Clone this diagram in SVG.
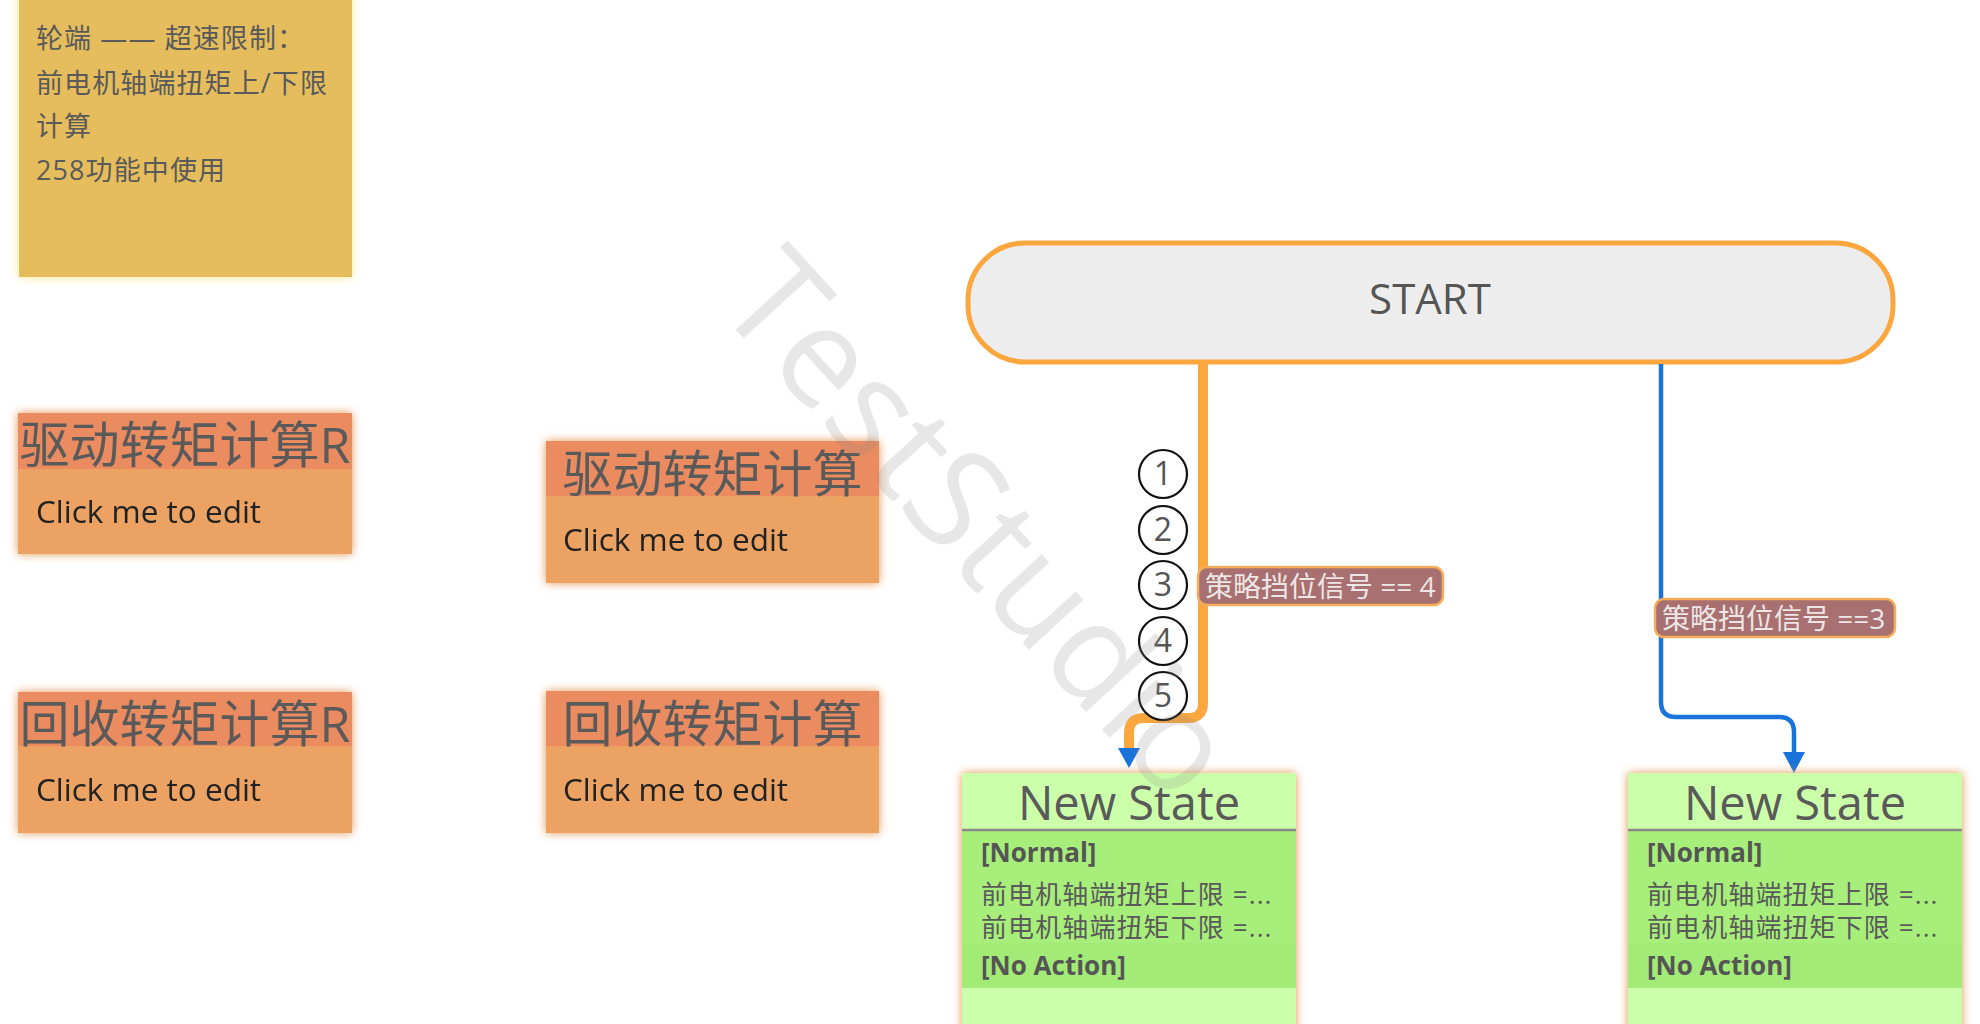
<svg xmlns="http://www.w3.org/2000/svg" width="1980" height="1024" viewBox="0 0 1980 1024">
<defs>
<filter id="glowO" x="-10%" y="-10%" width="120%" height="120%">
<feDropShadow dx="0" dy="0" stdDeviation="5" flood-color="#E0883A" flood-opacity="0.9"/>
</filter>
<filter id="glowY" x="-10%" y="-10%" width="120%" height="120%">
<feDropShadow dx="0" dy="0" stdDeviation="5" flood-color="#FFE77A" flood-opacity="0.95"/>
</filter>
<style>
.cjk{font-family:"Open Sans","Noto Sans CJK SC",sans-serif;fill:#5a5a5a}
.note{font-size:27px;letter-spacing:1.1px}
.hdr{fill:#EA8B61}
.body{fill:#EBA263}
.title{font-size:50px;text-anchor:middle}
.click{font-family:"Open Sans",sans-serif;font-size:31.5px;fill:#222}
.num{font-family:"Open Sans",sans-serif;font-size:32px;fill:#555;text-anchor:middle}
.circ{fill:#fff;stroke:#111;stroke-width:2.2}
.lbl{fill:#A87070;stroke:#F6AE5A;stroke-width:2.5}
.lbltxt{font-family:"Open Sans","Noto Sans CJK SC",sans-serif;font-size:28px;fill:#ECE6E6}
.sname{font-size:47px;text-anchor:middle}
.bold{font-family:"Open Sans",sans-serif;font-weight:bold;font-size:26px;fill:#555}
.act{font-size:26px;letter-spacing:1.1px}
</style>
</defs>
<rect width="1980" height="1024" fill="#fff"/>

<g id="note">
<rect x="19" y="-6" width="333" height="283" fill="#E5BD5D" filter="url(#glowY)"/>
<text class="cjk note" x="36" y="48">轮端 —— 超速限制：</text>
<text class="cjk note" x="36" y="93">前电机轴端扭矩上/下限</text>
<text class="cjk note" x="36" y="136">计算</text>
<text class="cjk note" x="36" y="180">258功能中使用</text>
</g>

<g id="drive-r" filter="url(#glowO)">
<rect class="body" x="18" y="413" width="334" height="141"/>
<rect class="hdr" x="18" y="413" width="334" height="56"/>
<text class="cjk title" x="185" y="463">驱动转矩计算R</text>
<text class="click" x="36" y="523">Click me to edit</text>
</g>

<g id="regen-r" filter="url(#glowO)">
<rect class="body" x="18" y="692" width="334" height="141"/>
<rect class="hdr" x="18" y="692" width="334" height="54"/>
<text class="cjk title" x="185" y="742">回收转矩计算R</text>
<text class="click" x="36" y="801">Click me to edit</text>
</g>

<g id="drive" filter="url(#glowO)">
<rect class="body" x="546" y="441" width="333" height="142"/>
<rect class="hdr" x="546" y="441" width="333" height="55"/>
<text class="cjk title" x="712.5" y="492">驱动转矩计算</text>
<text class="click" x="563" y="551">Click me to edit</text>
</g>

<g id="regen" filter="url(#glowO)">
<rect class="body" x="546" y="691" width="333" height="142"/>
<rect class="hdr" x="546" y="691" width="333" height="55"/>
<text class="cjk title" x="712.5" y="742">回收转矩计算</text>
<text class="click" x="563" y="801">Click me to edit</text>
</g>

<g id="start">
<rect x="968" y="243" width="925" height="119" rx="57" ry="57" fill="#EDEDED" stroke="#FBA73E" stroke-width="5"/>
<text x="1430" y="314" font-family="Open Sans, sans-serif" font-size="42" fill="#555" text-anchor="middle">START</text>
</g>

<g id="connectors">
<path d="M1203,364 V703 Q1203,718 1188,718 H1144 Q1129,718 1129,733 V750" fill="none" stroke="#FBA73E" stroke-width="10"/>
<polygon points="1118,748 1140,748 1129,768" fill="#1A73D9"/>
<path d="M1661,364 V702 Q1661,717 1676,717 H1779 Q1794,717 1794,732 V755" fill="none" stroke="#1A73D9" stroke-width="4.5"/>
<polygon points="1783,752 1805,752 1794,773" fill="#1A73D9"/>
<circle class="circ" cx="1163" cy="474" r="24"/>
<circle class="circ" cx="1163" cy="530" r="24"/>
<circle class="circ" cx="1163" cy="585" r="24"/>
<circle class="circ" cx="1163" cy="641" r="24"/>
<circle class="circ" cx="1163" cy="696" r="24"/>
<text class="num" x="1163" y="485">1</text>
<text class="num" x="1163" y="541">2</text>
<text class="num" x="1163" y="596">3</text>
<text class="num" x="1163" y="652">4</text>
<text class="num" x="1163" y="707">5</text>
<rect class="lbl" x="1198" y="567" width="245" height="38" rx="9"/>
<text class="lbltxt" x="1205" y="597">策略挡位信号 == 4</text>
<rect class="lbl" x="1655" y="599" width="240" height="38" rx="9"/>
<text class="lbltxt" x="1662" y="629">策略挡位信号 ==3</text>
</g>

<g id="state1">
<g filter="url(#glowO)">
<rect x="962" y="773" width="334" height="270" fill="#CCFFAA"/>
</g>
<rect x="962" y="831" width="334" height="112" fill="#A7EE7B"/>
<rect x="962" y="943" width="334" height="45" fill="#A3EB77"/>
<line x1="962" y1="830" x2="1296" y2="830" stroke="#8A8A8A" stroke-width="2.5"/>
<text class="cjk sname" x="1129" y="820">New State</text>
<text class="bold" x="981" y="862">[Normal]</text>
<text class="cjk act" x="981" y="904">前电机轴端扭矩上限 =...</text>
<text class="cjk act" x="981" y="937">前电机轴端扭矩下限 =...</text>
<text class="bold" x="981" y="975">[No Action]</text>
</g>

<g id="state2">
<g filter="url(#glowO)">
<rect x="1628" y="773" width="334" height="270" fill="#CCFFAA"/>
</g>
<rect x="1628" y="831" width="334" height="112" fill="#A7EE7B"/>
<rect x="1628" y="943" width="334" height="45" fill="#A3EB77"/>
<line x1="1628" y1="830" x2="1962" y2="830" stroke="#8A8A8A" stroke-width="2.5"/>
<text class="cjk sname" x="1795" y="820">New State</text>
<text class="bold" x="1647" y="862">[Normal]</text>
<text class="cjk act" x="1647" y="904">前电机轴端扭矩上限 =...</text>
<text class="cjk act" x="1647" y="937">前电机轴端扭矩下限 =...</text>
<text class="bold" x="1647" y="975">[No Action]</text>
</g>

<text transform="translate(714,306) rotate(47.5)" x="0" y="0" font-family="Open Sans, sans-serif" font-size="138" fill="#888" fill-opacity="0.2">TestStudio</text>
</svg>
